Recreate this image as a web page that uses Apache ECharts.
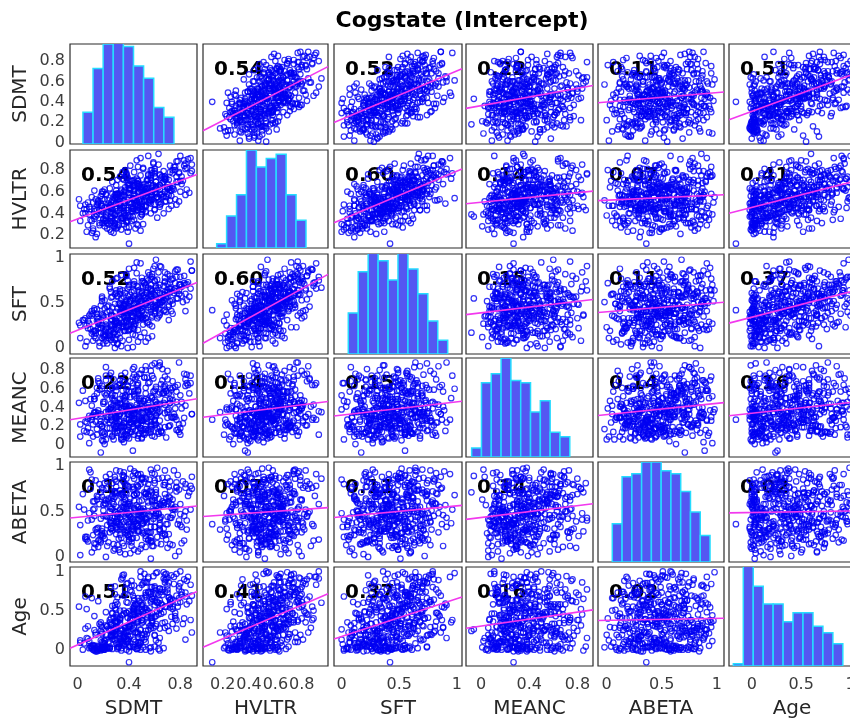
<!DOCTYPE html>
<html>
<head>
<meta charset="utf-8">
<title>Cogstate (Intercept)</title>
<script src="https://cdn.jsdelivr.net/npm/echarts@6/dist/echarts.min.js"></script>
<style>
  html, body { margin: 0; padding: 0; background: #ffffff; }
  #chart { width: 850px; height: 725px; }
</style>
</head>
<body>
<div id="chart"></div>
<script>
// Variable names, in matrix order
const names = ['SDMT', 'HVLTR', 'SFT', 'MEANC', 'ABETA', 'Age'];

// Per-subject normalised scores (one entry per subject, same order in every array)
const SDMT = [
  .05,.31,.18,.40,.02,.27,.12,.36,.22,.08,.43,.15,.29,.01,.34,.19,.25,.10,.39,.06,.21,.33,.14,.28,.17,
  .38,.11,.29,.47,.20,.07,.33,.25,.44,.16,.30,.09,.41,.23,.35,.13,.27,.49,.18,.06,.36,.22,.31,.15,.40,
  .24,.51,.13,.36,.45,.19,.30,.53,.11,.40,.27,.47,.16,.34,.22,.42,.38,.14,.29,.50,.20,.44,.33,.26,.12,
  .57,.21,.39,.16,.48,.32,.55,.26,.43,.18,.36,.52,.29,.45,.23,.58,.34,.41,.19,.50,.27,.37,.46,.31,.53,
  .31,.62,.24,.47,.38,.55,.21,.43,.59,.28,.50,.35,.64,.26,.41,.53,.22,.46,.33,.60,.39,.29,.57,.44,.36,
  .52,.27,.66,.40,.33,.58,.45,.69,.30,.49,.61,.36,.26,.54,.43,.67,.38,.50,.29,.63,.47,.34,.56,.41,.60,
  .44,.71,.35,.58,.63,.31,.50,.74,.40,.55,.33,.67,.47,.60,.37,.52,.72,.42,.65,.30,.57,.48,.69,.38,.53,
  .62,.39,.77,.51,.44,.70,.36,.58,.66,.47,.79,.41,.55,.73,.38,.64,.49,.76,.53,.43,.68,.57,.37,.61,.72,
  .81,.46,.59,.70,.42,.65,.84,.53,.74,.41,.62,.78,.49,.68,.56,.83,.44,.71,.60,.52,.76,.64,.47,.80,.57,
  .58,.85,.49,.73,.66,.89,.52,.79,.61,.46,.82,.70,.55,.87,.64,.75,.48,.68,.84,.59,.77,.51,.72,.88,.63,
  .04,.02,.09,.13,.07,.11,.17,.14,.12,.20,.18,.23,.16,.26,.21,.29,.25,.31,.28,.35,.33,.30,.39,.44,.37,
  .10,.08,.15,.19,.13,.17,.23,.20,.26,.22,.18,.29,.25,.32,.28,.35,.31,.27,.38,.41,.34,.44,.39,.47,.50,
  .15,.19,.13,.22,.26,.20,.29,.24,.31,.27,.34,.30,.37,.33,.40,.36,.43,.39,.46,.42,.49,.52,.47,.56,.60,
  .21,.25,.19,.28,.32,.26,.35,.30,.38,.33,.41,.36,.44,.39,.47,.43,.50,.45,.53,.48,.57,.61,.55,.64,.68,
  .27,.31,.25,.35,.30,.38,.34,.42,.37,.45,.40,.48,.44,.51,.47,.55,.50,.58,.53,.62,.57,.66,.60,.70,.74,
  .34,.30,.39,.36,.43,.40,.47,.44,.51,.48,.54,.50,.57,.53,.61,.58,.64,.60,.68,.65,.72,.69,.76,.80,.84,
  .40,.44,.38,.47,.43,.51,.46,.54,.50,.58,.55,.61,.57,.64,.60,.68,.63,.71,.67,.75,.72,.79,.83,.77,.88,
  .46,.50,.44,.54,.49,.57,.53,.61,.56,.64,.60,.68,.63,.71,.67,.74,.70,.78,.73,.81,.77,.85,.80,.89,.86
];
const HVLTR = [
  .44,.27,.39,.12,.47,.33,.24,.51,.36,.29,.42,.21,.38,.53,.25,.31,.46,.34,.23,.40,.28,.49,.37,.22,.43,
  .36,.55,.28,.47,.41,.23,.59,.33,.44,.50,.26,.39,.57,.31,.45,.35,.52,.24,.42,.48,.30,.38,.58,.43,.27,
  .52,.30,.61,.38,.26,.47,.55,.41,.33,.63,.44,.29,.49,.36,.58,.42,.27,.53,.39,.46,.60,.34,.45,.31,.50,
  .40,.62,.33,.51,.45,.29,.67,.48,.37,.56,.42,.60,.31,.53,.46,.65,.35,.50,.58,.39,.44,.64,.30,.55,.47,
  .58,.36,.49,.70,.43,.61,.33,.54,.66,.40,.51,.72,.46,.35,.63,.56,.39,.68,.48,.44,.59,.34,.52,.65,.47,
  .47,.69,.55,.38,.74,.60,.42,.51,.66,.37,.58,.71,.45,.63,.53,.40,.76,.49,.57,.64,.43,.61,.52,.70,.48,
  .66,.44,.78,.57,.50,.71,.41,.63,.54,.75,.47,.69,.60,.43,.80,.52,.64,.46,.73,.58,.49,.67,.55,.77,.62,
  .55,.73,.48,.82,.61,.67,.45,.77,.58,.70,.51,.84,.63,.47,.75,.66,.53,.80,.60,.44,.71,.57,.79,.65,.52,
  .74,.52,.86,.63,.70,.49,.81,.59,.77,.66,.55,.88,.62,.72,.50,.84,.68,.57,.79,.64,.53,.75,.83,.60,.71,
  .80,.62,.91,.56,.74,.85,.67,.78,.54,.89,.70,.64,.93,.59,.76,.83,.66,.72,.57,.87,.69,.81,.61,.77,.95,
  .40,.33,.46,.38,.44,.22,.29,.18,.26,.31,.47,.41,.52,.37,.45,.30,.25,.35,.28,.33,.55,.49,.43,.58,.50,
  .44,.50,.39,.47,.42,.31,.26,.35,.23,.33,.49,.54,.45,.58,.51,.36,.29,.40,.32,.37,.56,.62,.52,.48,.60,
  .48,.53,.44,.57,.50,.34,.39,.30,.42,.36,.56,.49,.61,.53,.59,.40,.45,.37,.43,.33,.64,.58,.67,.55,.62,
  .53,.47,.60,.55,.49,.41,.36,.45,.33,.43,.62,.57,.52,.66,.59,.44,.39,.48,.42,.50,.68,.63,.71,.58,.74,
  .58,.52,.63,.56,.61,.45,.40,.49,.38,.47,.66,.60,.71,.57,.64,.50,.44,.53,.46,.55,.73,.68,.77,.63,.80,
  .62,.57,.68,.60,.65,.50,.46,.54,.43,.52,.71,.64,.75,.62,.69,.55,.48,.59,.51,.57,.78,.72,.83,.70,.86,
  .67,.61,.73,.65,.70,.55,.50,.59,.47,.57,.76,.69,.80,.66,.74,.60,.53,.64,.56,.62,.84,.77,.89,.74,.91,
  .72,.66,.78,.70,.75,.60,.55,.64,.52,.62,.81,.74,.85,.71,.79,.65,.58,.69,.61,.67,.88,.82,.93,.79,.90
];
const SFT = [
  .31,.04,.17,.42,.11,.24,.08,.35,.14,.22,.01,.30,.09,.28,.02,.37,.15,.21,.00,.33,.12,.40,.19,.06,.26,
  .29,.41,.18,.07,.36,.25,.48,.13,.21,.32,.10,.27,.31,.05,.44,.19,.26,.12,.38,.02,.47,.23,.15,.34,.09,
  .11,.32,.44,.24,.14,.52,.30,.07,.36,.27,.45,.20,.22,.47,.08,.35,.53,.16,.29,.41,.05,.26,.50,.19,.38,
  .43,.14,.58,.27,.36,.49,.11,.32,.55,.22,.40,.17,.60,.30,.46,.13,.38,.52,.25,.34,.57,.19,.44,.28,.33,
  .58,.33,.47,.64,.24,.42,.53,.29,.60,.35,.45,.23,.37,.62,.21,.48,.30,.55,.17,.44,.66,.26,.51,.39,.19,
  .72,.31,.52,.44,.65,.24,.54,.40,.61,.33,.47,.57,.56,.28,.70,.41,.23,.63,.49,.35,.68,.45,.26,.59,.38,
  .48,.31,.64,.57,.43,.78,.52,.38,.68,.45,.60,.53,.46,.74,.33,.59,.66,.29,.51,.77,.40,.62,.55,.36,.70,
  .76,.44,.63,.35,.74,.57,.49,.82,.60,.43,.70,.54,.67,.41,.80,.55,.36,.72,.61,.47,.84,.58,.39,.69,.52,
  .58,.83,.46,.71,.62,.90,.41,.68,.77,.52,.64,.87,.44,.73,.59,.80,.49,.66,.75,.55,.85,.61,.42,.70,.63,
  .79,.53,.94,.66,.48,.86,.72,.60,.98,.69,.51,.82,.75,.57,.91,.64,.47,.78,.70,.88,.55,.74,.62,.96,.67,
  .31,.25,.36,.13,.07,.16,.02,.11,.18,.34,.22,.40,.29,.09,.19,.00,.14,.05,.16,.27,.38,.21,.33,.24,.42,
  .38,.30,.43,.11,.19,.06,.22,.15,.37,.26,.47,.33,.41,.24,.17,.08,.20,.12,.31,.39,.28,.44,.35,.34,.49,
  .38,.57,.42,.21,.25,.13,.27,.18,.44,.36,.55,.40,.49,.11,.20,.29,.15,.24,.33,.41,.52,.37,.46,.53,.48,
  .44,.66,.55,.21,.28,.36,.24,.30,.51,.63,.41,.47,.58,.19,.31,.22,.34,.27,.49,.38,.60,.45,.52,.50,.59,
  .74,.57,.68,.40,.28,.44,.31,.37,.61,.50,.70,.55,.63,.26,.38,.29,.41,.34,.56,.48,.66,.51,.59,.64,.53,
  .81,.64,.75,.47,.35,.51,.38,.44,.68,.57,.77,.61,.70,.33,.45,.36,.48,.41,.62,.55,.73,.58,.66,.71,.60,
  .88,.71,.82,.54,.41,.58,.45,.50,.74,.63,.84,.67,.77,.39,.52,.42,.55,.48,.69,.61,.80,.64,.72,.79,.66,
  .95,.78,.89,.61,.48,.65,.52,.57,.81,.70,.91,.74,.84,.46,.59,.49,.62,.55,.76,.68,.87,.71,.79,.86,.73
];
const MEANC = [
  .15,.41,-.08,.27,.09,.54,.22,.03,.35,.18,.66,.11,.29,.45,.06,.20,.74,.13,.38,.25,.01,.49,.31,.21,.59,
  .08,.30,.17,.57,.04,.24,.43,.12,.33,.68,.20,.02,.39,.27,.15,.52,.10,.76,.22,.47,.31,.06,.36,.61,.19,
  .36,.12,.49,.23,.70,.05,.31,.17,.42,.27,.09,.58,.34,.20,.83,.14,.39,.25,.63,.07,.46,.29,.18,.53,.32,
  .21,.55,.10,.37,.28,.64,.16,.44,-.06,.33,.24,.72,.13,.40,.30,.51,.19,.35,.60,.08,.26,.47,.38,.15,.80,
  .43,.18,.30,.66,.11,.48,.25,.37,.57,.06,.34,.21,.85,.40,.14,.29,.53,.23,.45,.09,.62,.32,.17,.75,.38,
  .27,.50,.13,.41,.69,.22,.35,.08,.58,.30,.46,.19,.77,.38,.26,.62,.15,.44,.33,.54,.10,.39,.67,.24,.48,
  .52,.20,.36,.74,.14,.45,.29,.61,.07,.40,.33,.56,.23,.87,.42,.17,.49,.31,.65,.26,.38,.12,.58,.44,.35,
  .34,.63,.16,.47,.28,.79,.41,.10,.55,.37,.22,.68,.45,.30,.59,.19,.50,.39,.13,.72,.43,.25,.53,.32,.61,
  .46,.24,.71,.35,.57,.15,.42,.84,.29,.51,.38,.64,.18,.48,.33,.76,.27,.55,.40,.11,.62,.44,.21,.53,.37,
  .39,.66,.27,.52,.81,.33,.47,.14,.60,.43,.23,.70,.36,.55,.88,.30,.49,.19,.63,.41,.57,.26,.45,.74,.35,
  .58,.22,.31,.49,.14,.27,.66,.35,.09,.44,.25,.18,.71,.30,.12,.53,.38,.20,.47,.06,.33,.62,.16,.28,.51,
  .49,.28,.17,.63,.35,.22,.55,.10,.40,.74,.31,.19,.60,.26,.43,.68,.13,.37,.52,.24,.08,.57,.33,.21,.80,
  .55,.20,.34,.69,.27,.14,.47,.38,.23,.61,.11,.30,.77,.25,.41,.50,.17,.36,.64,.29,.44,.72,.07,.32,.58,
  .46,.24,.13,.70,.31,.37,.58,.19,.28,.65,.42,.09,.54,.33,.22,.81,.27,.15,.49,.36,.20,.62,.40,.26,.73,
  .61,.35,.18,.52,.28,.41,.74,.23,.12,.58,.33,.47,.83,.16,.39,.66,.26,.30,.55,.44,.14,.69,.21,.37,.48,
  .44,.29,.16,.67,.38,.22,.59,.11,.34,.76,.25,.41,.52,.20,.31,.85,.36,.27,.63,.14,.45,.57,.30,.18,.70,
  .57,.31,.24,.64,.19,.40,.73,.28,.15,.50,.35,.22,.79,.43,.26,.60,.12,.38,.55,.33,.21,.88,.29,.46,.66,
  .50,.26,.37,.72,.18,.30,.61,.42,.13,.56,.24,.34,.84,.20,.45,.68,.29,.16,.59,.39,.27,.75,.11,.33,.64
];
const ABETA = [
  .52,.13,.71,.36,.02,.61,.24,.88,.45,.17,.33,.67,.09,.55,.41,.76,.27,.93,.48,.20,.63,.31,.84,.39,.58,
  .29,.85,.44,.06,.57,.19,.73,.38,.62,.11,.49,.96,.25,.35,.68,.15,.53,.80,.42,.22,.60,.00,.47,.31,.77,
  .64,.37,.10,.82,.50,.26,.70,.43,.05,.58,.34,.91,.18,.47,.75,.29,.55,.14,.66,.40,.23,.86,.52,.32,.61,
  .21,.59,.78,.32,.46,.08,.67,.40,.89,.16,.54,.27,.72,.36,.12,.63,.49,.97,.24,.44,.81,.03,.57,.38,.69,
  .47,.15,.62,.90,.33,.56,.20,.74,.42,.07,.85,.51,.28,.65,.39,.11,.58,.79,.35,.45,.24,.70,-.02,.53,.30,
  .71,.43,.26,.60,.94,.17,.52,.36,.83,.09,.48,.66,.31,.75,.21,.57,.40,.13,.88,.54,.34,.69,.45,.04,.62,
  .38,.77,.55,.12,.64,.30,.87,.46,.22,.69,.05,.59,.41,.81,.27,.50,.73,.16,.44,.95,.33,.61,.19,.53,.70,
  .56,.24,.82,.47,.68,.10,.39,.92,.61,.29,.74,.44,.18,.58,.86,.35,.51,.01,.66,.42,.79,.27,.63,.48,.14,
  .33,.69,.50,.87,.20,.57,.76,.41,.13,.64,.98,.36,.53,.25,.72,.45,.08,.61,.84,.39,.55,.30,.78,.47,.16,
  .62,.40,.91,.54,.23,.75,.47,.06,.68,.34,.83,.58,.19,.71,.43,.95,.28,.60,.50,.12,.77,.37,.65,.52,.86,
  .69,.35,.48,.61,.22,.41,.80,.30,.52,.74,.18,.44,.66,.37,.26,.85,.50,.33,.58,.15,.43,.77,.29,.39,.71,
  .75,.40,.27,.66,.53,.19,.83,.45,.31,.62,.24,.50,.91,.36,.14,.70,.42,.29,.79,.56,.21,.68,.38,.47,.86,
  .63,.28,.45,.88,.37,.51,.72,.16,.40,.67,.33,.55,.79,.24,.46,.93,.30,.58,.70,.12,.49,.82,.35,.27,.65,
  .81,.44,.31,.64,.20,.53,.90,.38,.26,.73,.47,.12,.68,.56,.34,.77,.29,.41,.86,.49,.18,.71,.60,.37,.95,
  .72,.39,.55,.84,.25,.47,.66,.31,.58,.92,.19,.42,.75,.53,.28,.80,.36,.61,.69,.22,.49,.87,.33,.44,.63,
  .59,.32,.48,.89,.41,.17,.77,.54,.26,.68,.38,.50,.96,.23,.45,.71,.30,.57,.82,.14,.43,.65,.52,.35,.80,
  .46,.29,.70,.55,.34,.87,.21,.42,.62,.50,.27,.74,.39,.58,.91,.24,.47,.66,.31,.53,.83,.40,.18,.72,.78,
  .37,.51,.94,.28,.45,.73,.20,.56,.85,.41,.33,.69,.48,.25,.79,.52,.36,.90,.43,.15,.76,.30,.58,.88,.67
];
const Age = [
  .08,.01,.24,-.16,.12,.46,.00,.15,.04,.30,.07,.02,.19,.55,-.01,.10,.38,.05,.13,.27,.03,.17,-.02,.22,.33,
  .14,.02,.36,.09,.00,.52,.21,.04,.28,-.01,.61,.11,.17,.03,.44,.25,.01,.08,.31,.68,.05,.19,.40,-.02,.23,
  .27,.03,.43,.16,.58,.01,.35,.10,.66,-.02,.22,.48,.04,.12,.31,.74,.00,.19,.53,.38,.02,.82,.14,.25,.05,
  .41,.00,.18,.62,.09,.03,.34,.80,.26,-.01,.50,.13,.71,.22,.02,.46,.90,.37,.04,.15,.56,.29,.01,.67,.24,
  .36,.60,.02,.20,.84,.44,.11,.04,.68,.28,.52,.95,-.01,.31,.76,.16,.48,.01,.39,.72,.24,.57,.03,.63,.07,
  .53,.13,.77,.03,.38,.65,.22,.97,.45,.00,.30,.69,.18,.86,.49,.02,.61,.34,.81,.09,.58,.26,.73,.04,.42,
  .66,.24,.92,.41,.01,.58,.83,.33,.14,.74,.50,.99,.37,.04,.71,.20,.63,.88,.46,.29,-.02,.79,.55,.10,.53,
  .61,.85,.27,.49,.03,.73,.96,.36,.57,.16,.81,.45,.93,.65,.22,.53,1.0,.40,.00,.69,.89,.31,.77,.12,.58,
  .70,.47,.94,.30,.82,.59,.13,.86,.63,.39,.99,.55,.25,.74,.02,.90,.51,.67,.19,.97,.43,.78,.35,.61,.71,
  .80,.58,.93,.42,.70,.22,.87,.66,.98,.50,.33,.77,.91,.62,.15,.84,.46,.96,.73,.28,.69,.85,.54,.38,.60,
  .00,.09,.02,-.01,.15,.04,.01,.22,.06,.00,.12,.30,.03,.18,.08,.26,.02,.35,.14,.07,.41,.20,.11,.48,.28,
  .03,.14,.00,.22,.05,.01,.30,.09,.18,.02,.35,.12,.26,.04,.41,.16,.07,.47,.24,.33,.10,.56,.29,.43,.38,
  .05,.20,.01,.13,.33,.03,.24,.10,.42,.16,.02,.37,.28,.08,.49,.21,.45,.12,.58,.31,.26,.66,.39,.53,.18,
  .12,.02,.29,.18,.07,.40,.25,.51,.14,.34,.04,.46,.30,.60,.22,.38,.55,.10,.68,.43,.27,.76,.49,.63,.35,
  .18,.03,.35,.09,.27,.47,.14,.40,.22,.58,.31,.06,.52,.44,.66,.25,.57,.37,.73,.49,.80,.34,.62,.92,.55,
  .24,.08,.41,.17,.53,.30,.02,.46,.36,.62,.20,.57,.44,.70,.33,.65,.51,.81,.28,.74,.59,.90,.47,.85,.68,
  .29,.13,.47,.05,.38,.58,.22,.51,.66,.34,.73,.43,.61,.27,.79,.55,.70,.86,.48,.93,.64,.77,.40,.97,.83,
  .35,.19,.54,.42,.10,.63,.48,.71,.30,.78,.57,.86,.45,.67,.91,.52,.82,.60,.95,.74,.38,.88,1.0,.69,.93
];
const vars = [SDMT, HVLTR, SFT, MEANC, ABETA, Age];

// Pairwise correlation coefficients printed in the off-diagonal panels
const corr = [
  [1.00, 0.54, 0.52, 0.22, 0.11, 0.51],
  [0.54, 1.00, 0.60, 0.14, 0.07, 0.41],
  [0.52, 0.60, 1.00, 0.15, 0.11, 0.37],
  [0.22, 0.14, 0.15, 1.00, 0.14, 0.16],
  [0.11, 0.07, 0.11, 0.14, 1.00, 0.02],
  [0.51, 0.41, 0.37, 0.16, 0.02, 1.00]
];

// Axis limits per variable (horizontal and vertical use)
const xRange = [[-0.06, 0.93], [0.05, 1.0], [-0.066, 1.044], [-0.125, 0.93], [-0.079, 1.066], [-0.23, 1.045]];
const yRange = [[-0.013, 0.967], [0.08, 0.985], [-0.067, 1.044], [-0.128, 0.928], [-0.056, 1.043], [-0.208, 1.057]];
const xTicks = [[0, 0.4, 0.8], [0.2, 0.4, 0.6, 0.8], [0, 0.5, 1], [0, 0.4, 0.8], [0, 0.5, 1], [0, 0.5, 1]];
const yTicks = [[0, 0.2, 0.4, 0.6, 0.8], [0.2, 0.4, 0.6, 0.8], [0, 0.5, 1], [0, 0.2, 0.4, 0.6, 0.8], [0, 0.5, 1], [0, 0.5, 1]];

// Diagonal histograms: first bin edge, bin width, counts per bin, count-axis top
const histStart = [0.041, 0.154, 0.058, -0.078, 0.051, -0.186];
const histWidth = [0.0788, 0.0754, 0.0862, 0.0815, 0.0888, 0.1007];
const histCounts = [
  [13, 31, 41, 42, 40, 32, 27, 15, 11],
  [2, 15, 25, 46, 38, 42, 44, 25, 13],
  [15, 30, 37, 34, 27, 37, 31, 22, 12, 5],
  [4, 33, 37, 44, 34, 33, 20, 25, 11, 9],
  [13, 29, 30, 34, 34, 31, 30, 24, 17, 9],
  [1, 45, 36, 28, 28, 20, 24, 24, 18, 15, 10]
];
const histTop = [41, 46, 36.5, 44, 34, 44.7];

// Panel layout (pixels)
const colLeft = [70, 203, 334, 466, 598, 729];
const colWidth = [127, 125, 128, 127, 126, 126];
const rowTop = [44, 150, 254, 358, 462, 567];
const rowHeight = [100, 98, 100, 99, 100, 99];

const FONT = '"DejaVu Sans", "Liberation Sans", sans-serif';

function meanOf(a) { return a.reduce((s, v) => s + v, 0) / a.length; }
function sdOf(a) {
  const m = meanOf(a);
  return Math.sqrt(a.reduce((s, v) => s + (v - m) * (v - m), 0) / (a.length - 1));
}
const means = vars.map(meanOf);
const sds = vars.map(sdOf);

// One histogram bar: [left edge, right edge, count]
function renderBar(params, api) {
  const p0 = api.coord([api.value(0), 0]);
  const p1 = api.coord([api.value(1), api.value(2)]);
  return {
    type: 'rect',
    shape: { x: p0[0], y: p1[1], width: p1[0] - p0[0], height: p0[1] - p1[1] },
    style: { fill: '#5457f2', stroke: '#25dcff', lineWidth: 1.5 }
  };
}

const grid = [], xAxis = [], yAxis = [], series = [], graphic = [];
const n = names.length;
for (let i = 0; i < n; i++) {
  for (let j = 0; j < n; j++) {
    const g = grid.length;
    grid.push({
      left: colLeft[j], top: rowTop[i], width: colWidth[j], height: rowHeight[i],
      show: true, borderColor: '#2b2b2b', borderWidth: 1.2, backgroundColor: 'transparent',
      containLabel: false, outerBoundsMode: 'none'
    });
    xAxis.push({
      type: 'value', gridIndex: g, min: xRange[j][0], max: xRange[j][1],
      axisLine: { show: false }, axisTick: { show: false }, splitLine: { show: false },
      axisLabel: {
        show: i === n - 1, customValues: xTicks[j], formatter: v => String(v),
        margin: 11, color: '#3c3c3c', fontSize: 16, fontFamily: FONT
      }
    });
    yAxis.push({
      type: 'value', gridIndex: g, min: yRange[i][0], max: yRange[i][1],
      axisLine: { show: false }, axisTick: { show: false }, splitLine: { show: false },
      axisLabel: {
        show: j === 0, customValues: yTicks[i], formatter: v => String(v),
        margin: 5, color: '#3c3c3c', fontSize: 16, fontFamily: FONT
      }
    });
    const yMain = yAxis.length - 1;
    if (i === j) {
      // hidden count axis for the histogram on the diagonal
      yAxis.push({ type: 'value', gridIndex: g, min: 0, max: histTop[i], show: false });
      series.push({
        type: 'custom', xAxisIndex: g, yAxisIndex: yAxis.length - 1, clip: true, silent: true,
        renderItem: renderBar,
        data: histCounts[i].map((c, k) => [histStart[i] + k * histWidth[i], histStart[i] + (k + 1) * histWidth[i], c])
      });
    } else {
      series.push({
        type: 'scatter', xAxisIndex: g, yAxisIndex: yMain, silent: true, z: 3,
        symbol: 'circle', symbolSize: 5.5,
        itemStyle: { color: 'rgba(0,0,0,0)', borderColor: '#0000f2', borderWidth: 1.2 },
        data: vars[j].map((v, k) => [v, vars[i][k]])
      });
      // least-squares line of row variable on column variable
      const slope = corr[i][j] * sds[i] / sds[j];
      const xa = xRange[j][0], xb = xRange[j][1];
      series.push({
        type: 'line', xAxisIndex: g, yAxisIndex: yMain, silent: true, z: 4,
        showSymbol: false, symbol: 'none',
        lineStyle: { color: '#f238ee', width: 1.6 },
        data: [[xa, means[i] + slope * (xa - means[j])], [xb, means[i] + slope * (xb - means[j])]]
      });
      graphic.push({
        type: 'text', x: colLeft[j] + 11, y: rowTop[i] + 26, z: 1, silent: true,
        style: { text: corr[i][j].toFixed(2), fill: '#000000', font: 'bold 20px ' + FONT, align: 'left', verticalAlign: 'middle' }
      });
    }
  }
}

// Variable names along the left and bottom edges
for (let i = 0; i < n; i++) {
  graphic.push({
    type: 'text', x: 21, y: rowTop[i] + rowHeight[i] / 2, rotation: Math.PI / 2, z: 5, silent: true,
    style: { text: names[i], fill: '#262626', font: '20px ' + FONT, align: 'center', verticalAlign: 'middle' }
  });
  graphic.push({
    type: 'text', x: colLeft[i] + colWidth[i] / 2, y: 709, z: 5, silent: true,
    style: { text: names[i], fill: '#262626', font: '20px ' + FONT, align: 'center', verticalAlign: 'middle' }
  });
}
graphic.push({
  type: 'text', x: 462, y: 21, z: 5, silent: true,
  style: { text: 'Cogstate (Intercept)', fill: '#000000', font: 'bold 22px ' + FONT, align: 'center', verticalAlign: 'middle' }
});

const chart = echarts.init(document.getElementById('chart'), null, { renderer: 'canvas' });
chart.setOption({
  backgroundColor: '#ffffff',
  animation: false,
  grid, xAxis, yAxis, series, graphic
});
</script>
</body>
</html>
